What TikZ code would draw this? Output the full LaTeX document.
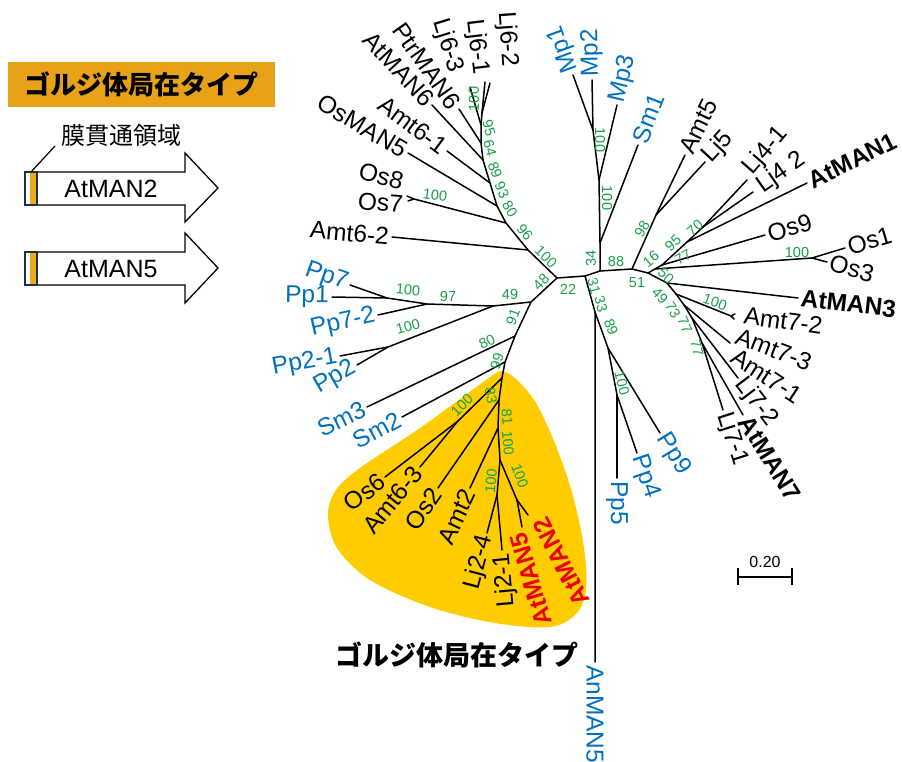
\documentclass[tikz,border=0pt]{standalone}
\usepackage{fontspec}
\setmainfont{Liberation Sans}
\newfontfamily\cjk{Noto Sans CJK JP}
\usetikzlibrary{calc}
\definecolor{bsgreen}{RGB}{24,160,72}
\definecolor{tblue}{RGB}{0,112,192}
\definecolor{tred}{RGB}{235,0,0}
\definecolor{blobc}{RGB}{255,204,0}
\definecolor{legor}{RGB}{232,162,24}
\definecolor{tmfill}{RGB}{236,170,30}
\definecolor{tmedge}{RGB}{30,50,70}
\tikzset{
  br/.style={line width=1.5pt, line cap=round, line join=round},
  lab/.style={font=\fontsize{24.5}{24.5}\selectfont, inner sep=3pt},
  blu/.style={text=tblue},
  redb/.style={text=tred, font=\bfseries\fontsize{24.5}{24.5}\selectfont},
  blk/.style={font=\bfseries\fontsize{24.5}{24.5}\selectfont},
  bs/.style={font=\fontsize{14.5}{14.5}\selectfont, text=bsgreen, inner sep=0pt},
  legarrow/.style={draw=black, fill=white, line width=1.3pt, line join=miter},
}
\newcommand{\labL}[5][]{\path let \p1=($(#4)-(#3)$), \n1={atan2(\y1,\x1)} in node[lab,anchor=east,rotate=\n1,#1] (#2) at (#3) {#5};}
\newcommand{\labR}[5][]{\path let \p1=($(#3)-(#4)$), \n1={atan2(\y1,\x1)} in node[lab,anchor=west,rotate=\n1,#1] (#2) at (#3) {#5};}
\newcommand{\bsl}[4]{\node[bs,rotate=#3] (#1) at (#2) {#4};}
\begin{document}
\begin{tikzpicture}[x=1pt,y=-1pt]
\useasboundingbox (0,0) rectangle (902,762);

% ---------- Golgi blob ----------
\fill[blobc] plot[smooth cycle, tension=0.55] coordinates {
 (502,371) (516,379) (536,403) (556,446) (573,496) (584,548) (586,590)
 (576,614) (550,627) (495,623) (430,607) (370,580) (337,548) (328,515)
 (336,490) (360,468) (420,428) (475,388) (493,375)};

% ---------- coordinates ----------
\coordinate (C1) at (557,278);
\coordinate (C2) at (585,276);
\coordinate (C3) at (600,271);
% upper-left
\coordinate (U1) at (528,250);
\coordinate (U2) at (506,223);
\coordinate (U3) at (497,206);
\coordinate (U4) at (490,183);
\coordinate (U5) at (483,160);
\coordinate (U6) at (481,143);
\coordinate (U7) at (481,125);
\coordinate (U8) at (482,113);
\coordinate (OF) at (414,199);
\coordinate (ta62) at (392,237);
\coordinate (tos8) at (407,196);
\coordinate (tos7) at (408,201);
\coordinate (tosm5) at (408,153);
\coordinate (ta61) at (447,151);
\coordinate (tat6) at (432,105);
\coordinate (tptr6) at (459,109);
\coordinate (tlj63) at (470,87);
\coordinate (tlj61) at (485,82);
\coordinate (tlj62) at (490,83);
% left-lower
\coordinate (L1) at (531,302);
\coordinate (L2) at (515,336);
\coordinate (L3) at (505,362);
\coordinate (L4) at (502,378);
\coordinate (P1) at (493,306);
\coordinate (P2) at (388,347);
\coordinate (P3) at (427,304);
\coordinate (P4) at (387,298);
\coordinate (tpp7) at (350,285);
\coordinate (tpp1) at (332,297);
\coordinate (tpp72) at (378,315);
\coordinate (tpp21) at (340,356);
\coordinate (tpp2) at (357,365);
\coordinate (tsm3) at (367,407);
\coordinate (tsm2) at (402,417);
% golgi clade
\coordinate (G1) at (458,421);
\coordinate (G2) at (499,400);
\coordinate (G3) at (498,428);
\coordinate (G4) at (500,460);
\coordinate (G5) at (497,495);
\coordinate (G6) at (517,500);
\coordinate (tos6) at (385,477);
\coordinate (ta63) at (420,467);
\coordinate (tos2) at (438,488);
\coordinate (tamt2) at (470,488);
\coordinate (tlj24) at (487,533);
\coordinate (tlj21) at (502,550);
\coordinate (tat5) at (522,527);
\coordinate (tat2) at (528,515);
% right-up
\coordinate (M1) at (600,243);
\coordinate (M2) at (599,180);
\coordinate (M3) at (593,130);
\coordinate (tsm1) at (638,145);
\coordinate (tmp3) at (617,105);
\coordinate (tmp1) at (573,75);
\coordinate (tmp2) at (592,80);
% right
\coordinate (R1) at (632,269);
\coordinate (R2) at (648,273);
\coordinate (R3) at (655,269);
\coordinate (R4) at (662,265);
\coordinate (R5) at (687,242);
\coordinate (R6) at (703,227);
\coordinate (A5) at (656,215);
\coordinate (OS) at (812,258);
\coordinate (tamt5) at (685,155);
\coordinate (tlj5) at (705,162);
\coordinate (tos1) at (845,248);
\coordinate (tos3) at (827,262);
\coordinate (tos9) at (765,235);
\coordinate (tat1) at (807,183);
\coordinate (tlj41) at (747,180);
\coordinate (tlj42) at (753,192);
% lower-right
\coordinate (S1) at (667,283);
\coordinate (S2) at (676,294);
\coordinate (S3) at (684,305);
\coordinate (S4) at (692,318);
\coordinate (S5) at (702,343);
\coordinate (AF) at (731,316);
\coordinate (tat3) at (798,298);
\coordinate (ta72) at (735,314);
\coordinate (ta73) at (734,319);
\coordinate (ta71) at (730,343);
\coordinate (tlj72) at (738,378);
\coordinate (tat7) at (743,415);
\coordinate (tlj71) at (723,410);
% down
\coordinate (D1) at (595,312);
\coordinate (D2) at (608,348);
\coordinate (D3) at (617,395);
\coordinate (tan5) at (595,662);
\coordinate (tpp9) at (660,433);
\coordinate (tpp4) at (637,453);
\coordinate (tpp5) at (617,478);

% ---------- branches ----------
\draw[br] (C1)--(C2)--(C3);
\draw[br] (C1)--(U1)--(U2)--(U3)--(U4)--(U5)--(U6)--(U7)--(U8);
\draw[br] (U1)--(ta62);
\draw[br] (U2)--(OF);
\draw[br] (OF)--(tos8);
\draw[br] (OF)--(tos7);
\draw[br] (U3)--(tosm5);
\draw[br] (U4)--(ta61);
\draw[br] (U5)--(tat6);
\draw[br] (U6)--(tptr6);
\draw[br] (U7)--(tlj63);
\draw[br] (U8)--(tlj61);
\draw[br] (U8)--(tlj62);

\draw[br] (C1)--(L1)--(L2)--(L3)--(L4)--(G2)--(G3)--(G4);
\draw[br] (L1)--(P1)--(P3)--(P4);
\draw[br] (P4)--(tpp7);
\draw[br] (P4)--(tpp1);
\draw[br] (P3)--(tpp72);
\draw[br] (P1)--(P2);
\draw[br] (P2)--(tpp21);
\draw[br] (P2)--(tpp2);
\draw[br] (L2)--(tsm3);
\draw[br] (L3)--(tsm2);
\draw[br] (L4)--(G1);
\draw[br] (G1)--(tos6);
\draw[br] (G1)--(ta63);
\draw[br] (G2)--(tos2);
\draw[br] (G3)--(tamt2);
\draw[br] (G4)--(G5);
\draw[br] (G5)--(tlj24);
\draw[br] (G5)--(tlj21);
\draw[br] (G4)--(G6);
\draw[br] (G6)--(tat5);
\draw[br] (G6)--(tat2);

\draw[br] (C3)--(M1)--(M2)--(M3);
\draw[br] (M1)--(tsm1);
\draw[br] (M2)--(tmp3);
\draw[br] (M3)--(tmp1);
\draw[br] (M3)--(tmp2);

\draw[br] (C3)--(R1)--(R2)--(R3)--(R4)--(R5)--(R6);
\draw[br] (R1)--(A5);
\draw[br] (A5)--(tamt5);
\draw[br] (A5)--(tlj5);
\draw[br] (R3)--(OS);
\draw[br] (OS)--(tos1);
\draw[br] (OS)--(tos3);
\draw[br] (R4)--(tos9);
\draw[br] (R5)--(tat1);
\draw[br] (R6)--(tlj41);
\draw[br] (R6)--(tlj42);

\draw[br] (R2)--(S1)--(S2)--(S3)--(S4)--(S5);
\draw[br] (S1)--(tat3);
\draw[br] (S2)--(AF);
\draw[br] (AF)--(ta72);
\draw[br] (AF)--(ta73);
\draw[br] (S3)--(ta71);
\draw[br] (S4)--(tlj72);
\draw[br] (S5)--(tat7);
\draw[br] (S5)--(tlj71);

\draw[br] (C2)--(D1)--(tan5);
\draw[br] (D1)--(D2)--(tpp9);
\draw[br] (D2)--(D3)--(tpp4);
\draw[br] (D3)--(tpp5);

% ---------- tip labels ----------
\labL{la62}{ta62}{U1}{Amt6-2}
\node[lab,anchor=east,rotate=-15] (los8) at ($(tos8)+(-1,-13)$) {Os8};
\node[lab,anchor=east,rotate=-5] (los7) at ($(tos7)+(-2,4)$) {Os7};
\labL{losm5}{tosm5}{U3}{OsMAN5}
\labL{la61}{ta61}{U4}{Amt6-1}
\labL{lat6}{tat6}{U5}{AtMAN6}
\node[lab,rotate=-55] (lptr6) at (427,66) {PtrMAN6};
\node[lab,rotate=-73] (llj63) at (448,46) {Lj6-3};
\node[lab,rotate=-83] (llj61) at (477,47) {Lj6-1};
\node[lab,rotate=-86] (llj62) at (507,39) {Lj6-2};

\labL[blu]{lpp7}{tpp7}{P4}{Pp7}
\labL[blu]{lpp1}{tpp1}{P4}{Pp1}
\labL[blu]{lpp72}{tpp72}{P3}{Pp7-2}
\labL[blu]{lpp21}{tpp21}{P2}{Pp2-1}
\labL[blu]{lpp2}{tpp2}{P2}{Pp2}
\labL[blu]{lsm3}{tsm3}{L2}{Sm3}
\labL[blu]{lsm2}{tsm2}{L3}{Sm2}

\labL{los6}{tos6}{G1}{Os6}
\labL{la63}{ta63}{G1}{Amt6-3}
\labL{los2}{tos2}{G2}{Os2}
\labL{lamt2}{tamt2}{G3}{Amt2}
\labL{llj24}{tlj24}{G5}{Lj2-4}
\labL{llj21}{tlj21}{G5}{Lj2-1}
\node[lab,redb,rotate=106] (lat5) at (531,579) {AtMAN5};
\node[lab,redb,rotate=117] (lat2) at (561,562) {AtMAN2};

\labR[blu]{lmp1}{tmp1}{M3}{Mp1}
\labR[blu]{lmp2}{tmp2}{M3}{Mp2}
\labR[blu]{lmp3}{tmp3}{M2}{Mp3}
\labR[blu]{lsm1}{tsm1}{M1}{Sm1}
\labR{lamt5}{tamt5}{A5}{Amt5}
\labR{llj5}{tlj5}{A5}{Lj5}
\node[lab,anchor=west,rotate=49] (llj41) at (746,174) {Lj4-1};
\node[lab,anchor=west,rotate=35] (llj42) at (757,190) {Lj4 2};
\labR[blk]{lat1}{tat1}{R5}{AtMAN1}
\labR{los9}{tos9}{R4}{Os9}
\labR{los1}{tos1}{OS}{Os1}
\labR{los3}{tos3}{OS}{Os3}

\labR[blk]{lat3}{tat3}{S1}{AtMAN3}
\node[lab,anchor=west,rotate=-8] (la72) at (741,315) {Amt7-2};
\node[lab,anchor=west,rotate=-21] (la73) at (734,334) {Amt7-3};
\node[lab,anchor=west,rotate=-33] (la71) at (731,353) {Amt7-1};
\labR{llj72}{tlj72}{S4}{Lj7-2}
\node[lab,blk,anchor=west,rotate=-58] (lat7) at (tat7) {AtMAN7};
\node[lab,anchor=west,rotate=-72] (llj71) at (tlj71) {Lj7-1};

\labR[blu]{lpp9}{tpp9}{D2}{Pp9}
\labR[blu]{lpp4}{tpp4}{D3}{Pp4}
\labR[blu]{lpp5}{tpp5}{D3}{Pp5}
\node[lab,blu,anchor=west,rotate=-90] (lan5) at (tan5) {AnMAN5};

% ---------- bootstrap values ----------
\bsl{b1}{474,99}{90}{100}
\bsl{b2}{489,128}{-75}{95}
\bsl{b3}{490,148}{-75}{64}
\bsl{b4}{495,170}{-70}{89}
\bsl{b5}{502,190}{-65}{93}
\bsl{b6}{510,209}{-60}{80}
\bsl{b7}{525,232}{-50}{96}
\bsl{b8}{546,257}{-45}{100}
\bsl{b9}{435,195}{-8}{100}
\bsl{b10}{541,282}{45}{48}
\bsl{b11}{568,289}{0}{22}
\bsl{b12}{510,295}{0}{49}
\bsl{b13}{448,297}{0}{97}
\bsl{b14}{408,290}{-5}{100}
\bsl{b15}{408,327}{15}{100}
\bsl{b16}{513,317}{70}{91}
\bsl{b17}{487,342}{25}{80}
\bsl{b18}{497,361}{75}{99}
\bsl{b19}{462,405}{45}{100}
\bsl{b20}{491,396}{-80}{83}
\bsl{b21}{507,417}{-85}{81}
\bsl{b22}{508,443}{-85}{100}
\bsl{b23}{491,481}{85}{100}
\bsl{b24}{520,476}{-70}{100}
\bsl{b25}{591,258}{90}{34}
\bsl{b26}{616,262}{0}{88}
\bsl{b27}{594,286}{-75}{31}
\bsl{b28}{601,304}{-75}{33}
\bsl{b29}{611,327}{-70}{89}
\bsl{b30}{622,383}{-75}{100}
\bsl{b31}{600,140}{-90}{100}
\bsl{b32}{607,198}{-90}{100}
\bsl{b33}{642,229}{60}{98}
\bsl{b34}{651,259}{40}{16}
\bsl{b35}{673,243}{40}{95}
\bsl{b36}{695,228}{40}{70}
\bsl{b37}{683,257}{30}{77}
\bsl{b38}{637,283}{0}{51}
\bsl{b39}{666,276}{-45}{50}
\bsl{b40}{660,296}{-45}{49}
\bsl{b41}{673,310}{-60}{73}
\bsl{b42}{685,325}{-65}{77}
\bsl{b43}{697,348}{-75}{77}
\bsl{b44}{715,302}{-20}{100}
\bsl{b45}{797,253}{0}{100}

% ---------- golgi caption ----------
\node[font=\cjk\bfseries\fontsize{27}{27}\selectfont, inner sep=0pt] (golgilab) at (457,655) {ゴルジ体局在タイプ};

% ---------- scale bar ----------
\coordinate (sb1) at (738,577);
\coordinate (sb2) at (792,577);
\draw[line width=1.4pt] (sb1)--(sb2);
\draw[line width=1.4pt] ($(sb1)+(0,-9)$)--($(sb1)+(0,8)$);
\draw[line width=1.4pt] ($(sb2)+(0,-9)$)--($(sb2)+(0,8)$);
\node[font=\fontsize{16}{16}\selectfont, inner sep=0pt] (sblab) at (765,562) {0.20};

% ---------- legend ----------
\node[fill=legor, minimum width=267pt, minimum height=45pt, inner sep=0pt,
      font=\cjk\bfseries\fontsize{26}{26}\selectfont] (legtitle) at (141.5,84.5) {ゴルジ体局在タイプ};
\node[font=\cjk\fontsize{24}{24}\selectfont, inner sep=0pt] (tmlab) at (121,135) {膜貫通領域};

\draw[legarrow] (25,172)--(185,172)--(185,153)--(218,188)--(185,222)--(185,205)--(25,205)--cycle;
\fill[tmfill] (29.5,172) rectangle (36.5,205);
\draw[tmedge, line width=1.3pt] (25,172) rectangle (37,205);
\node[font=\fontsize{25}{25}\selectfont, inner sep=0pt] (leg2) at (111,189) {AtMAN2};

\draw[legarrow] (25,252)--(185,252)--(185,233)--(218,268)--(185,303)--(185,285)--(25,285)--cycle;
\fill[tmfill] (29.5,252) rectangle (36.5,285);
\draw[tmedge, line width=1.3pt] (25,252) rectangle (37,285);
\node[font=\fontsize{25}{25}\selectfont, inner sep=0pt] (leg5) at (111,269) {AtMAN5};

\coordinate (lead1) at (55,146);
\coordinate (lead2) at (31,172);
\draw[line width=1.2pt] (lead1)--(lead2);
\end{tikzpicture}
\end{document}
